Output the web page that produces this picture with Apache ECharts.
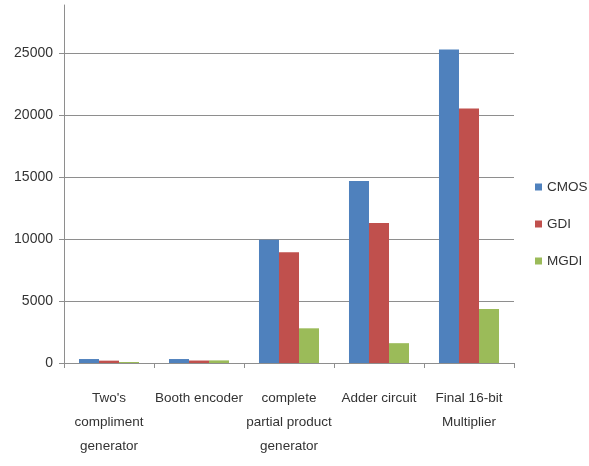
<!DOCTYPE html>
<html>
<head>
<meta charset="utf-8">
<script src="https://cdn.jsdelivr.net/npm/echarts@6/dist/echarts.min.js"></script>
<style>
  html, body { margin: 0; padding: 0; background: #ffffff; }
  #chart { width: 589px; height: 466px; }
</style>
</head>
<body>
<div id="chart"></div>
<script>
// Circuit blocks compared across the three logic styles
const categories = [
  "Two's\ncompliment\ngenerator",
  "Booth encoder",
  "complete\npartial product\ngenerator",
  "Adder circuit",
  "Final 16-bit\nMultiplier"
];
const cmos = [320, 320, 9950, 14700, 25300];
const gdi  = [190, 200, 8950, 11300, 20550];
const mgdi = [80, 210, 2800, 1600, 4350];
const yTicks = [0, 5000, 10000, 15000, 20000, 25000];

const FONT = '"Liberation Sans", Arial, sans-serif';
const TEXT = '#333333';
const GRID = '#8e8e8e';

const chart = echarts.init(document.getElementById('chart'));

const makeSeries = (name, data, color) => ({
  name: name,
  type: 'bar',
  data: data,
  barGap: '0%',
  barCategoryGap: '33.3%',
  itemStyle: { color: color },
  animation: false
});

chart.setOption({
  backgroundColor: '#ffffff',
  animation: false,
  grid: { left: 64, right: 75, top: 5, bottom: 103, containLabel: false },
  legend: {
    orient: 'vertical',
    left: 535,
    top: 180,
    padding: 0,
    itemWidth: 7,
    itemHeight: 7,
    itemGap: 23,
    icon: 'rect',
    textStyle: { fontFamily: FONT, fontSize: 13.5, color: TEXT },
    data: ['CMOS', 'GDI', 'MGDI']
  },
  xAxis: {
    type: 'category',
    data: categories,
    axisLine: { show: true, lineStyle: { color: GRID, width: 1 } },
    axisTick: { show: true, length: 5, lineStyle: { color: GRID } },
    axisLabel: {
      interval: 0,
      margin: 23,
      fontFamily: FONT,
      fontSize: 13.5,
      lineHeight: 24,
      color: TEXT,
      align: 'center'
    }
  },
  yAxis: {
    type: 'value',
    min: 0,
    max: 28900,
    interval: 5000,
    axisLine: { show: true, lineStyle: { color: GRID, width: 1 } },
    axisTick: { show: true, length: 5, lineStyle: { color: GRID }, customValues: yTicks },
    splitLine: { show: true, lineStyle: { color: GRID, width: 1 } },
    axisLabel: {
      margin: 11,
      fontFamily: FONT,
      fontSize: 14,
      color: TEXT,
      showMaxLabel: false,
      formatter: v => (yTicks.indexOf(v) >= 0 ? String(v) : '')
    }
  },
  series: [
    makeSeries('CMOS', cmos, '#4f81bd'),
    makeSeries('GDI', gdi, '#c0504d'),
    makeSeries('MGDI', mgdi, '#9bbb59')
  ]
});
</script>
</body>
</html>
